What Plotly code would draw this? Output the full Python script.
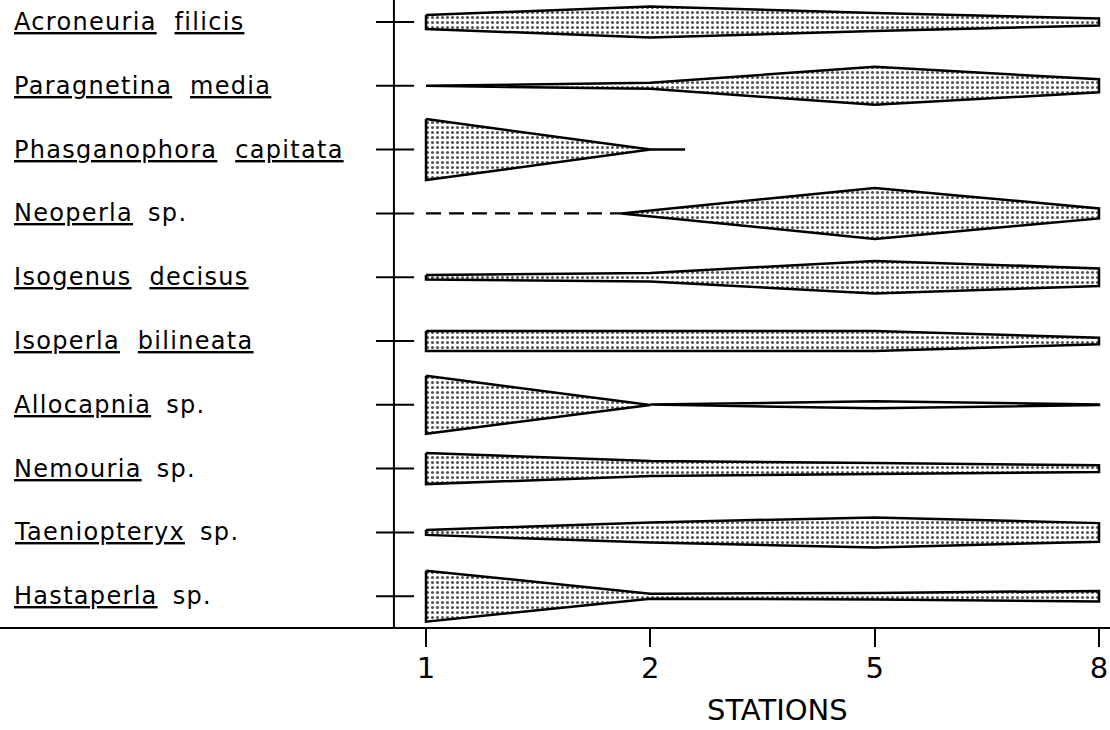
import plotly.graph_objects as go

# Sampling stations along the stream (ordinal positions 0..3 on the x axis)
STATIONS = ["1", "2", "5", "8"]
STATION_POS = [0, 1, 2, 3]

# Stonefly taxa, top to bottom: genus (always underlined) and epithet
GENERA = ["Acroneuria", "Paragnetina", "Phasganophora", "Neoperla", "Isogenus",
          "Isoperla", "Allocapnia", "Nemouria", "Taeniopteryx", "Hastaperla"]
EPITHETS = ["filicis", "media", "capitata", "sp.", "decisus",
            "bilineata", "sp.", "sp.", "sp.", "sp."]

# Relative abundance (kite half-width) at stations 1, 2, 5, 8
acroneuria_filicis = [7, 15.5, 9, 3.5]
paragnetina_media = [0, 3, 19, 6.5]
isogenus_decisus = [2.2, 4.2, 16.3, 8.8]
isoperla_bilineata = [10, 10, 10, 3.3]
allocapnia_sp = [29, 0.3, 3.5, 0.3]
nemouria_sp = [15.5, 7.5, 5.5, 3.3]
taeniopteryx_sp = [2.5, 10, 15, 9.3]
hastaperla_sp = [25.5, 2.5, 3.3, 5.3]

# Taxa whose record does not span all stations
phasganophora_pos = [0, 1, 1.155]
phasganophora_capitata = [30.5, 0, 0]
neoperla_pos = [0.87, 1, 2, 3]
neoperla_sp = [0, 2.9, 25.5, 5]
neoperla_dashed_pos = [0, 0.87]

KITE_SCALE = 1 / 63.8          # abundance units -> row units
STIPPLE = dict(shape=".", size=5, solidity=0.3, fgcolor="#555555",
               bgcolor="white", fillmode="replace")
FONT = "DejaVu Sans"

profiles = [
    (STATION_POS, acroneuria_filicis),
    (STATION_POS, paragnetina_media),
    (phasganophora_pos, phasganophora_capitata),
    (neoperla_pos, neoperla_sp),
    (STATION_POS, isogenus_decisus),
    (STATION_POS, isoperla_bilineata),
    (STATION_POS[:2], allocapnia_sp[:2]),
    (STATION_POS, nemouria_sp),
    (STATION_POS, taeniopteryx_sp),
    (STATION_POS, hastaperla_sp),
]


def kite(pos, vals, row):
    xs = list(pos) + list(pos[::-1]) + [pos[0]]
    ys = ([row - v * KITE_SCALE for v in vals]
          + [row + v * KITE_SCALE for v in vals[::-1]]
          + [row - vals[0] * KITE_SCALE])
    return xs, ys


fig = go.Figure()

for row, (pos, vals) in enumerate(profiles):
    xs, ys = kite(pos, vals, row)
    fig.add_trace(go.Scatter(
        x=xs, y=ys, mode="lines", fill="toself", fillcolor="white",
        fillpattern=STIPPLE, line=dict(color="black", width=2.5),
        hoverinfo="skip", showlegend=False))

# Allocapnia: thin unshaded lens between stations 2 and 8
xs, ys = kite(STATION_POS[1:], allocapnia_sp[1:], GENERA.index("Allocapnia"))
fig.add_trace(go.Scatter(
    x=xs, y=ys, mode="lines", fill="toself", fillcolor="white",
    line=dict(color="black", width=2.5), hoverinfo="skip", showlegend=False))

# Neoperla: dashed line where the taxon is expected but not taken
neo_row = GENERA.index("Neoperla")
fig.add_trace(go.Scatter(
    x=neoperla_dashed_pos, y=[neo_row] * len(neoperla_dashed_pos), mode="lines",
    line=dict(color="black", width=2.2, dash="15px,8px"),
    hoverinfo="skip", showlegend=False))

# Vertical taxon axis and its row ticks
AXIS_X = -0.143
shapes = [dict(type="line", xref="x", yref="paper", x0=AXIS_X, x1=AXIS_X,
               y0=0, y1=1, line=dict(color="black", width=2))]
for row in range(len(GENERA)):
    shapes.append(dict(type="line", xref="x", yref="y", x0=-0.223, x1=-0.053,
                       y0=row, y1=row, line=dict(color="black", width=2)))

# Taxon labels with each Latin word underlined
UL = ('<span style="text-decoration:underline;'
      'text-decoration-skip-ink:none">{}</span>')
annotations = []
for row, (g, e) in enumerate(zip(GENERA, EPITHETS)):
    if e == "sp.":
        label = f"{UL.format(g)}\u2009 {e}"
    else:
        label = f"{UL.format(g)}\u00a0 {UL.format(e)}"
    annotations.append(dict(
        x=0.011, xref="paper", y=row, yref="y",
        text=f'<span style="letter-spacing:1.3px">{label}</span>',
        showarrow=False, xanchor="left", yanchor="middle",
        font=dict(family=FONT, size=24, color="black")))

# Axis title, centred under the station span
annotations.append(dict(
    x=1.569, xref="x", y=-0.132, yref="paper", text="STATIONS",
    showarrow=False, xanchor="center", yanchor="middle",
    font=dict(family=FONT, size=29, color="black")))

fig.update_layout(
    width=1110, height=730,
    margin=dict(l=0, r=0, t=0, b=103),
    paper_bgcolor="white", plot_bgcolor="white",
    shapes=shapes, annotations=annotations,
    xaxis=dict(
        range=[-1.899, 3.049], showgrid=False, zeroline=False,
        showline=True, linecolor="black", linewidth=2,
        tickmode="array", tickvals=STATION_POS, ticktext=STATIONS,
        ticks="outside", ticklen=18, tickwidth=2, tickcolor="black",
        ticklabelstandoff=-4,
        tickfont=dict(family=FONT, size=29, color="black")),
    yaxis=dict(range=[9.4828, -0.3448], visible=False),
)

fig.write_html("out.html", config={"displayModeBar": False})
